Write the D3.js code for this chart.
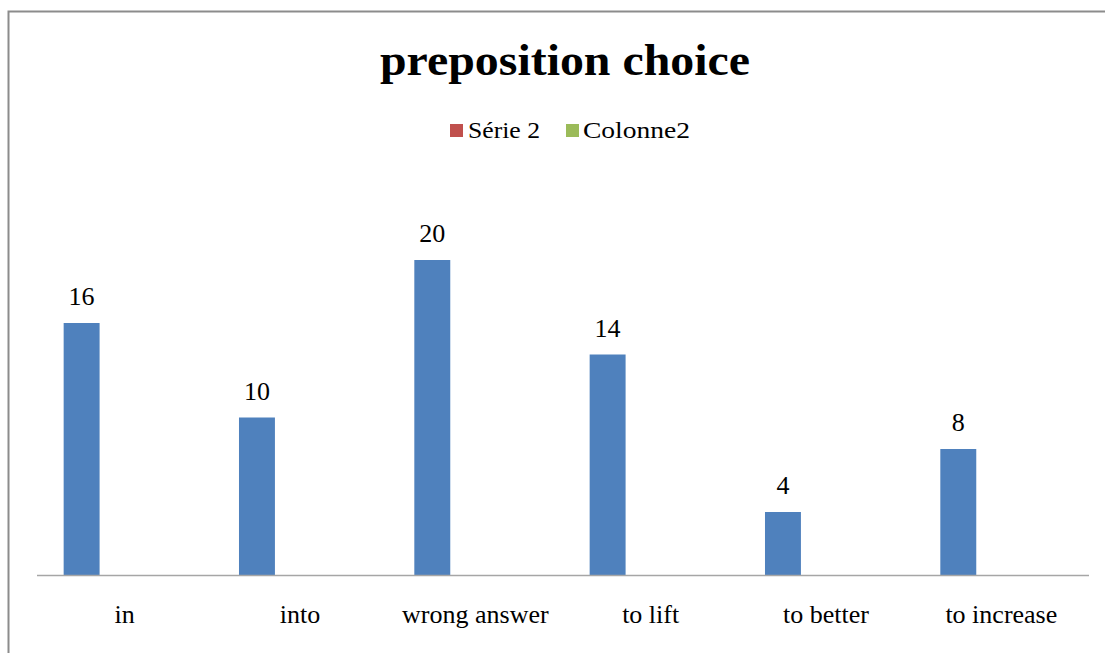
<!DOCTYPE html>
<html>
<head>
<meta charset="utf-8">
<script src="https://cdn.jsdelivr.net/npm/d3@7/dist/d3.min.js"></script>
<style>
  html, body { margin: 0; padding: 0; background: #fff; }
  svg { display: block; }
</style>
</head>
<body>
<svg id="chart" width="1105" height="653"></svg>
<script>
// Categories and series values
const categories = ["in", "into", "wrong answer", "to lift", "to better", "to increase"];
const seriesNames = ["Série 1", "Série 2", "Colonne2"];
const serie1 = [16, 10, 20, 14, 4, 8];
const serie2 = [0, 0, 0, 0, 0, 0];
const colonne2 = [0, 0, 0, 0, 0, 0];
const legendNames = ["Série 2", "Colonne2"];
const titleText = "preposition choice";

const colors = { "Série 1": "#4F81BD", "Série 2": "#C0504D", "Colonne2": "#9BBB59" };
const seriesValues = { "Série 1": serie1, "Série 2": serie2, "Colonne2": colonne2 };

const svg = d3.select("#chart");
const W = 1105, H = 653;
const font = "Liberation Serif, Times New Roman, serif";

// Outer frame (right and bottom edges run off the canvas)
svg.append("rect")
  .attr("x", 8.5).attr("y", 11.5)
  .attr("width", W + 10).attr("height", H + 10)
  .attr("fill", "#fff")
  .attr("stroke", "#8c8c8c")
  .attr("stroke-width", 2);

// Title, set slightly wide
svg.append("text")
  .attr("x", 380).attr("y", 75)
  .attr("font-family", font)
  .attr("font-weight", "bold")
  .attr("font-size", 44)
  .attr("textLength", 370)
  .attr("lengthAdjust", "spacingAndGlyphs")
  .attr("fill", "#000")
  .text(titleText);

// Legend
const legendItems = [
  { name: legendNames[0], x: 450, textX: 468, len: 72 },
  { name: legendNames[1], x: 566, textX: 583, len: 107 }
];
const lg = svg.append("g");
legendItems.forEach(it => {
  lg.append("rect")
    .attr("x", it.x).attr("y", 124)
    .attr("width", 13).attr("height", 13)
    .attr("fill", colors[it.name]);
  lg.append("text")
    .attr("x", it.textX).attr("y", 138)
    .attr("font-family", font)
    .attr("font-size", 24)
    .attr("textLength", it.len)
    .attr("lengthAdjust", "spacingAndGlyphs")
    .attr("fill", "#000")
    .text(it.name);
});

// Scales
const plotLeft = 37, plotRight = 1089, baseY = 575;
const x0 = d3.scaleBand().domain(categories).range([plotLeft, plotRight]).padding(0);
const bw = x0.bandwidth();
const x1 = d3.scaleBand().domain(seriesNames)
  .range([bw * 0.152, bw * 0.152 + bw * 0.615]).padding(0);
const y = d3.scaleLinear().domain([0, 20]).range([baseY, 260]);

// Bars
const groups = svg.append("g").selectAll("g")
  .data(categories)
  .join("g")
  .attr("transform", d => `translate(${x0(d)},0)`);

groups.selectAll("rect")
  .data((d, i) => seriesNames.map(s => ({ s, v: seriesValues[s][i] })))
  .join("rect")
  .attr("x", d => x1(d.s))
  .attr("y", d => y(d.v))
  .attr("width", x1.bandwidth())
  .attr("height", d => baseY - y(d.v))
  .attr("fill", d => colors[d.s]);

// Value labels for the first series
groups.append("text")
  .attr("x", () => x1("Série 1") + x1.bandwidth() / 2)
  .attr("y", (d, i) => y(serie1[i]) - 18)
  .attr("text-anchor", "middle")
  .attr("font-family", font)
  .attr("font-size", 26)
  .attr("fill", "#000")
  .text((d, i) => serie1[i]);

// Category axis
const xAxis = d3.axisBottom(x0).tickSize(0).tickPadding(0);
const ax = svg.append("g").attr("transform", `translate(0,${baseY})`).call(xAxis);
ax.attr("font-family", font).attr("font-size", 26);
ax.select(".domain").attr("stroke", "#a6a6a6").attr("stroke-width", 1.5)
  .attr("d", `M${plotLeft},0.5H${plotRight}`);
ax.selectAll(".tick text")
  .attr("y", 48)
  .attr("dy", 0)
  .attr("fill", "#000");
</script>
</body>
</html>
